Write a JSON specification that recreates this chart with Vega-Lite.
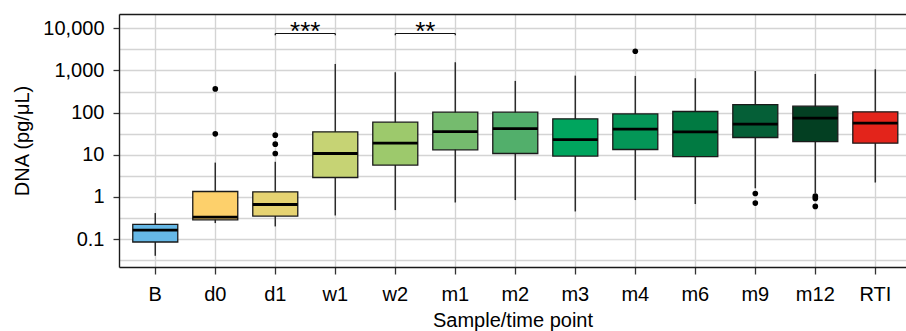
{
  "$schema": "https://vega.github.io/schema/vega-lite/v6.json",
  "width": 787,
  "height": 253,
  "autosize": {"type": "none"},
  "padding": {"left": 119, "top": 14, "right": 0, "bottom": 64},
  "config": {
    "view": {"stroke": null},
    "font": "Liberation Sans",
    "axis": {"labelFont": "Liberation Sans", "titleFont": "Liberation Sans", "labelColor": "#000", "titleColor": "#000", "labelFontSize": 20, "titleFontSize": 20, "titleFontWeight": "normal"}
  },
  "datasets": {
    "stats": [
      {"cat": "B", "lower": 0.040, "q1": 0.085, "median": 0.163, "q3": 0.222, "upper": 0.413},
      {"cat": "d0", "lower": 0.239, "q1": 0.286, "median": 0.33, "q3": 1.34, "upper": 6.5},
      {"cat": "d1", "lower": 0.199, "q1": 0.351, "median": 0.66, "q3": 1.32, "upper": 6.8},
      {"cat": "w1", "lower": 0.362, "q1": 2.88, "median": 10.7, "q3": 34.9, "upper": 1426},
      {"cat": "w2", "lower": 0.486, "q1": 5.67, "median": 18.8, "q3": 59.3, "upper": 906},
      {"cat": "m1", "lower": 0.736, "q1": 13.1, "median": 35.5, "q3": 102, "upper": 1565},
      {"cat": "m2", "lower": 0.84, "q1": 10.7, "median": 41.8, "q3": 102, "upper": 564},
      {"cat": "m3", "lower": 0.451, "q1": 9.27, "median": 22.9, "q3": 71, "upper": 753},
      {"cat": "m4", "lower": 0.84, "q1": 13.3, "median": 40.4, "q3": 93.1, "upper": 741},
      {"cat": "m6", "lower": 0.675, "q1": 9.06, "median": 34.9, "q3": 106, "upper": 653},
      {"cat": "m9", "lower": 1.6, "q1": 25.6, "median": 53.1, "q3": 155, "upper": 973},
      {"cat": "m12", "lower": 1.23, "q1": 20.5, "median": 73.6, "q3": 142, "upper": 826},
      {"cat": "RTI", "lower": 2.19, "q1": 18.8, "median": 56.1, "q3": 104, "upper": 1067}
    ],
    "outliers": [
      {"cat": "d0", "value": 31.3},
      {"cat": "d0", "value": 365},
      {"cat": "d1", "value": 10.7},
      {"cat": "d1", "value": 17.8},
      {"cat": "d1", "value": 29.1},
      {"cat": "m4", "value": 2851},
      {"cat": "m9", "value": 1.2},
      {"cat": "m9", "value": 0.713},
      {"cat": "m12", "value": 1.04},
      {"cat": "m12", "value": 0.917},
      {"cat": "m12", "value": 0.593}
    ],
    "brackets": [
      {"cat": "d1", "cat2": "w1", "y": 7520, "ty": 5190, "label": "***"},
      {"cat": "w2", "cat2": "m1", "y": 7520, "ty": 5190, "label": "**"}
    ],
    "bracketEnds": [
      {"cat": "d1", "y": 7520, "y2": 6800},
      {"cat": "w1", "y": 7520, "y2": 6800},
      {"cat": "w2", "y": 7520, "y2": 6800},
      {"cat": "m1", "y": 7520, "y2": 6800}
    ]
  },
  "encoding": {
    "x": {
      "field": "cat",
      "type": "nominal",
      "sort": ["B", "d0", "d1", "w1", "w2", "m1", "m2", "m3", "m4", "m6", "m9", "m12", "RTI"],
      "scale": {"type": "band", "domain": ["B", "d0", "d1", "w1", "w2", "m1", "m2", "m3", "m4", "m6", "m9", "m12", "RTI"], "paddingInner": 0.25, "paddingOuter": 0.183, "align": 0.627, "round": false},
      "axis": {
        "title": "Sample/time point",
        "labelAngle": 0,
        "bandPosition": 0.5,
        "grid": true,
        "gridColor": "#d4d4d4",
        "gridWidth": 1.4,
        "domain": true,
        "domainColor": "#1a1a1a",
        "domainWidth": 1.4,
        "ticks": true,
        "tickColor": "#333",
        "tickWidth": 1.3,
        "tickSize": 7,
        "labelPadding": 10,
        "titlePadding": 6
      }
    }
  },
  "layer": [
    {
      "data": {"name": "stats"},
      "mark": {"type": "rule", "color": "#2b2b2b", "strokeWidth": 1.5},
      "encoding": {
        "y": {
          "field": "lower",
          "type": "quantitative",
          "scale": {"type": "log", "domain": [0.02168, 21830], "nice": false, "zero": false},
          "axis": {
            "title": "DNA (pg/\u03bcL)",
            "values": [0.0316227766, 0.1, 0.316227766, 1, 3.16227766, 10, 31.6227766, 100, 316.227766, 1000, 3162.27766, 10000, 21830],
            "labelExpr": "indexof([0.1,1,10,100,1000,10000], datum.value) < 0 ? '' : format(datum.value, ',')",
            "grid": true,
            "gridColor": {"condition": {"test": "datum.value > 20000", "value": "#1a1a1a"}, "value": "#d4d4d4"},
            "gridWidth": 1.4,
            "domain": true,
            "domainColor": "#1a1a1a",
            "domainWidth": 1.4,
            "tickColor": "#333",
            "tickWidth": 1.3,
            "tickSize": 6,
            "tickOpacity": {"condition": {"test": "indexof([0.1,1,10,100,1000,10000], datum.value) < 0", "value": 0}, "value": 1},
            "labelPadding": 9,
            "titlePadding": 10
          }
        },
        "y2": {"field": "upper"}
      }
    },
    {
      "data": {"name": "stats"},
      "mark": {"type": "bar", "stroke": "#1a1a1a", "strokeWidth": 1.3, "opacity": 1},
      "encoding": {
        "y": {"field": "q1", "type": "quantitative"},
        "y2": {"field": "q3"},
        "fill": {
          "field": "cat",
          "type": "nominal",
          "scale": {
            "domain": ["B", "d0", "d1", "w1", "w2", "m1", "m2", "m3", "m4", "m6", "m9", "m12", "RTI"],
            "range": ["#66b8e6", "#fdd06b", "#e6d372", "#c6d374", "#9dc96c", "#75bb6e", "#52af6b", "#00a55e", "#049657", "#017a42", "#055f37", "#033f22", "#e3241b"]
          },
          "legend": null
        }
      }
    },
    {
      "data": {"name": "stats"},
      "mark": {"type": "tick", "color": "#000", "thickness": 2.8, "size": 45, "opacity": 1},
      "encoding": {
        "y": {"field": "median", "type": "quantitative"}
      }
    },
    {
      "data": {"name": "outliers"},
      "mark": {"type": "point", "filled": true, "color": "#000", "size": 32, "opacity": 1},
      "encoding": {
        "y": {"field": "value", "type": "quantitative"}
      }
    },
    {
      "data": {"name": "brackets"},
      "mark": {"type": "rule", "color": "#111", "strokeWidth": 1.2},
      "encoding": {
        "x2": {"field": "cat2"},
        "y": {"field": "y", "type": "quantitative"}
      }
    },
    {
      "data": {"name": "bracketEnds"},
      "mark": {"type": "rule", "color": "#111", "strokeWidth": 1.2},
      "encoding": {
        "y": {"field": "y", "type": "quantitative"},
        "y2": {"field": "y2"}
      }
    },
    {
      "data": {"name": "brackets"},
      "mark": {"type": "text", "dx": 30, "align": "center", "baseline": "alphabetic", "fontSize": 26, "font": "Liberation Sans", "color": "#000"},
      "encoding": {
        "y": {"field": "ty", "type": "quantitative"},
        "text": {"field": "label"}
      }
    }
  ]
}
